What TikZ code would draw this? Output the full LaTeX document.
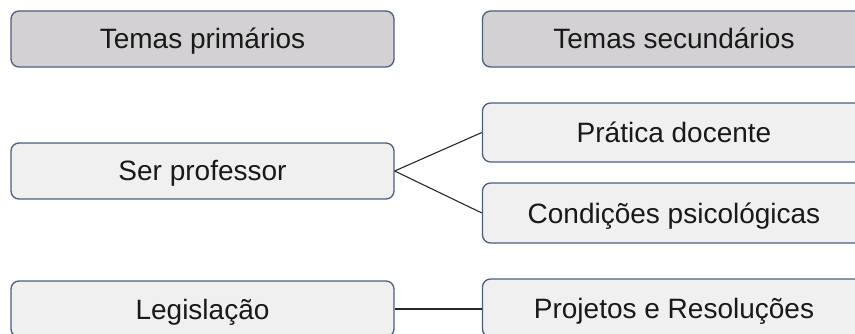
\documentclass[tikz,border=0pt]{standalone}
\usepackage{fontspec}
\setmainfont{Liberation Sans}
\definecolor{hdrfill}{RGB}{211,209,211}
\definecolor{boxfill}{RGB}{240,240,240}
\definecolor{boxdraw}{RGB}{74,94,126}
\definecolor{linecol}{RGB}{40,40,40}
\definecolor{txt}{RGB}{25,25,25}
\begin{document}
\begin{tikzpicture}[x=1pt,y=-1pt,
  box/.style={draw=boxdraw, line width=1.3pt, fill=boxfill, rounded corners=8pt,
    minimum width=383pt, minimum height=56pt, inner sep=0pt, text=txt,
    text height=20pt, text depth=0pt,
    font=\fontsize{28}{32}\selectfont},
  hdr/.style={box, fill=hdrfill},
  conn/.style={draw=linecol, line width=1.1pt}]
\useasboundingbox (0,0) rectangle (855,334);
\clip (0,0) rectangle (855,334);
\node[hdr] (h1) at (202.5,39) {Temas primários};
\node[hdr] (h2) at (674,39) {Temas secundários};
\node[box] (sp) at (202.5,171) {Ser professor};
\node[box, minimum height=59pt] (pd) at (674,132.5) {Prática docente};
\node[box, minimum height=60pt] (cp) at (674,213) {Condições psicológicas};
\node[box] (lg) at (202.5,309) {Legislação};
\node[box, minimum height=58pt] (pr) at (674,308) {Projetos e Resoluções};
\draw[conn] (sp.east) -- (pd.west);
\draw[conn] (sp.east) -- (cp.west);
\draw[conn] (lg.east) -- (lg.east -| pr.west);
\end{tikzpicture}
\end{document}
